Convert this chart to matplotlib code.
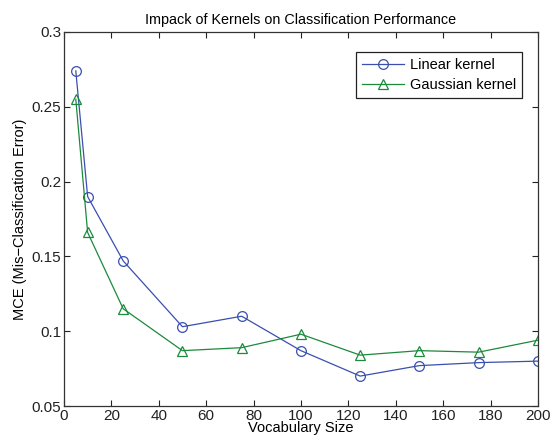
import numpy as np
import matplotlib.pyplot as plt

# vocabulary sizes and error rates
vocab_size = [5, 10, 25, 50, 75, 100, 125, 150, 175, 200]
mce_linear = [0.274, 0.190, 0.147, 0.103, 0.110, 0.087, 0.070, 0.077, 0.079, 0.080]
mce_gauss = [0.255, 0.166, 0.115, 0.087, 0.089, 0.098, 0.084, 0.087, 0.086, 0.094]

x_ticks = np.arange(0, 201, 20)
y_ticks = [0.05, 0.1, 0.15, 0.2, 0.25, 0.3]
y_labels = ['0.05', '0.1', '0.15', '0.2', '0.25', '0.3']

plt.rcParams['font.family'] = ['Liberation Sans', 'DejaVu Sans']

fig = plt.figure(figsize=(5.56, 4.43), dpi=100)
ax = fig.add_axes([0.115, 0.0835, 0.8525, 0.8443])

ax.plot(vocab_size, mce_linear, color='#3a4fb0', lw=0.9, marker='o', ms=7,
        mfc='none', mec='#3a4fb0', mew=0.9, label='Linear kernel')
ax.plot(vocab_size, mce_gauss, color='#1b8a3c', lw=0.9, marker='^', ms=7,
        mfc='none', mec='#1b8a3c', mew=0.9, label='Gaussian kernel')

ax.set_xlim(0, 200)
ax.set_ylim(0.05, 0.3)
ax.set_xticks(x_ticks)
ax.set_yticks(y_ticks)
ax.set_yticklabels(y_labels)
ax.tick_params(direction='in', top=True, right=True, labelsize=11, length=4,
               colors='#222222', pad=2)
for s in ax.spines.values():
    s.set_color('#333333')
    s.set_linewidth(0.9)

ax.set_title('Impack of Kernels on Classification Performance', fontsize=10.4, pad=6)
ax.set_xlabel('Vocabulary Size', fontsize=10.5, labelpad=-1)
ax.set_ylabel('MCE (Mis\u2212Classification Error)', fontsize=10.5, labelpad=3)

leg = ax.legend(loc='upper right', bbox_to_anchor=(0.966, 0.947), fontsize=10.5,
                borderaxespad=0, fancybox=False, framealpha=1, edgecolor='#222222',
                handlelength=2.9, borderpad=0.4, labelspacing=0.45, handletextpad=0.4)
leg.get_frame().set_linewidth(0.9)

fig.savefig('out.png', dpi=100)
